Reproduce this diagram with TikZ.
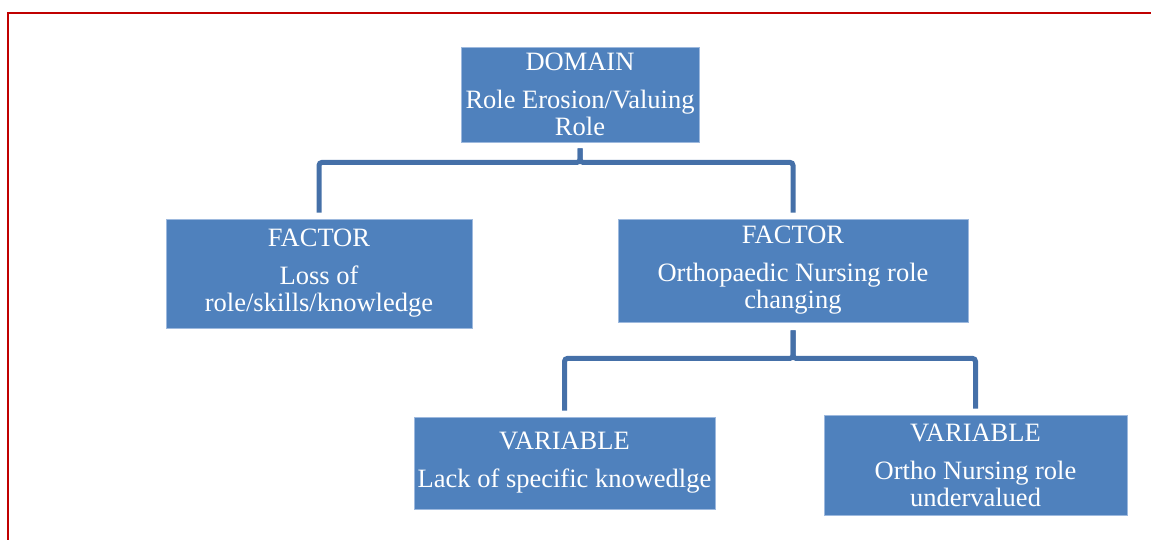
\documentclass[tikz,border=0pt]{standalone}
\usepackage{fontspec}
\setmainfont{Liberation Serif}
\usetikzlibrary{calc}
\definecolor{boxblue}{HTML}{4F81BD}
\definecolor{boxedge}{HTML}{9DB9DE}
\definecolor{linkblue}{HTML}{4570A8}
\definecolor{framered}{HTML}{C00000}

\begin{document}
\begin{tikzpicture}[
    x=1pt, y=-1pt,
    box/.style={rectangle, fill=boxblue, draw=boxedge, line width=0.8pt,
        text=white, align=center, inner sep=0pt,
        font=\fontsize{26.5}{27}\selectfont},
    link/.style={draw=linkblue, line width=5pt, rounded corners=3pt,
        shorten <=6pt, shorten >=6pt}
]
\useasboundingbox (0,0) rectangle (1151,539);

% 1. Page frame
\draw[framered, line width=2.5pt] (8,545) -- (8,13) -- (1160,13);

% 2. Boxes (domain, factors, variables)
\node[box, minimum width=238pt, minimum height=95pt] (domain) at (580,94.5)
    {DOMAIN\\[11pt]Role Erosion/Valuing\\Role};
\node[box, minimum width=306pt, minimum height=109pt] (factorL) at (319,273.5)
    {FACTOR\\[11pt]Loss of\\role/skills/knowledge};
\node[box, minimum width=350pt, minimum height=103pt] (factorR) at (793,270.5)
    {FACTOR\\[11pt]Orthopaedic Nursing role\\changing};
\node[box, minimum width=301pt, minimum height=92pt] (varL) at (564.5,463)
    {VARIABLE\\[11pt]Lack of specific knowedlge};
\node[box, minimum width=303pt, minimum height=100pt] (varR) at (975.5,465)
    {VARIABLE\\[11pt]Ortho Nursing role\\undervalued};

% 3. Connectors
\draw[link] (domain.south) -- ++(0,20) -| (factorL.north);
\draw[link] (domain.south) -- ++(0,20) -| (factorR.north);
\draw[link, shorten <=8pt] (factorR.south) -- ++(0,36) -| (varL.north);
\draw[link, shorten <=8pt] (factorR.south) -- ++(0,36) -| (varR.north);

\end{tikzpicture}
\end{document}
